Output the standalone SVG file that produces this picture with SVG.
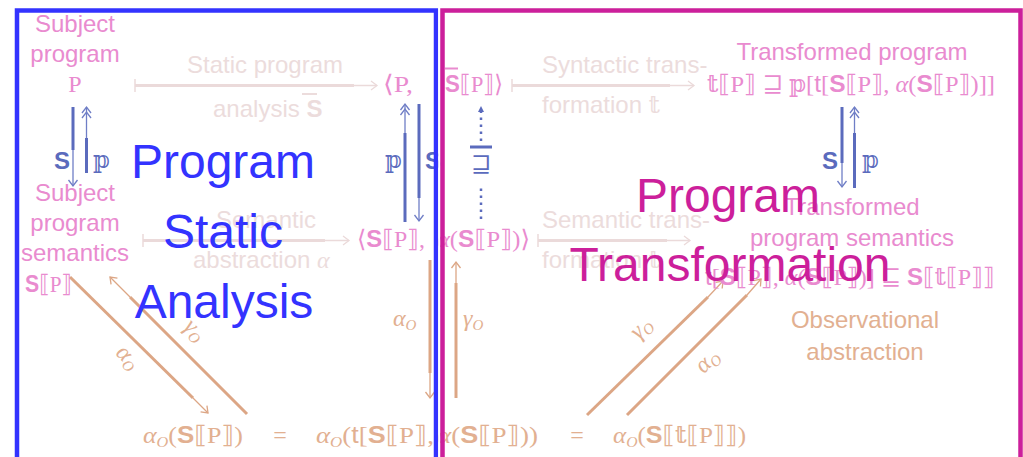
<svg xmlns="http://www.w3.org/2000/svg" width="1023" height="457" viewBox="0 0 1023 457">
<defs>
<style>
.pk{fill:#e98bcf;font-family:'Liberation Sans',Arial,sans-serif;font-size:24px}
.pm{fill:#e98bcf;font-family:'Liberation Serif','DejaVu Serif','DejaVu Sans',serif;font-size:24px}
.fa{fill:#ecdcdc;font-family:'Liberation Sans',Arial,sans-serif;font-size:24px}
.fm{fill:#ecdcdc;font-family:'Liberation Serif','DejaVu Serif','DejaVu Sans',serif;font-size:24px}
.tn{fill:#e2b091;font-family:'Liberation Sans',Arial,sans-serif;font-size:24px}
.tm{fill:#e2b091;font-family:'Liberation Serif','DejaVu Serif','DejaVu Sans',serif;font-size:24px}
.bm{fill:#5b6bbd;font-family:'Liberation Serif','DejaVu Serif','DejaVu Sans',serif;font-size:24px}
.bs{fill:#5b6bbd;font-family:'Liberation Sans',Arial,sans-serif;font-size:24px;font-weight:bold}
.sb{font-family:'Liberation Sans',Arial,sans-serif;font-weight:bold}
.sf{font-family:'Liberation Sans',Arial,sans-serif}
.it{font-style:italic}
.big1{fill:#3333ff;font-family:'Liberation Sans',Arial,sans-serif;font-size:48px;text-anchor:middle}
.big2{fill:#cc1f9b;font-family:'Liberation Sans',Arial,sans-serif;font-size:48px;text-anchor:middle}
.fth{stroke:#ebdada;stroke-width:3;fill:none}
.ftn{stroke:#ebdada;stroke-width:1.5;fill:none}
.bth{stroke:#5b6bbd;stroke-width:3;fill:none}
.btn{stroke:#6f7ec6;stroke-width:1.3;fill:none}
.tth{stroke:#dca685;stroke-width:3;fill:none}
.ttn{stroke:#dca685;stroke-width:1.3;fill:none}
</style>
<marker id="mf" markerUnits="userSpaceOnUse" markerWidth="12" markerHeight="12" refX="0" refY="0" orient="auto" overflow="visible"><path d="M-6,-4.5 L0,0 L-6,4.5" fill="none" stroke="#ebdada" stroke-width="1.3"/></marker>
<marker id="mb" markerUnits="userSpaceOnUse" markerWidth="12" markerHeight="12" refX="0" refY="0" orient="auto" overflow="visible"><path d="M-6,-4.5 L0,0 L-6,4.5" fill="none" stroke="#6f7ec6" stroke-width="1.3"/></marker>
<marker id="mbb" markerUnits="userSpaceOnUse" markerWidth="12" markerHeight="12" refX="0" refY="0" orient="auto" overflow="visible"><path d="M-6,-4.5 L0,0 L-6,4.5 M-11,-4.5 L-5,0 L-11,4.5" fill="none" stroke="#6f7ec6" stroke-width="1.3"/></marker>
<marker id="mbf" markerUnits="userSpaceOnUse" markerWidth="12" markerHeight="12" refX="0" refY="0" orient="auto" overflow="visible"><path d="M-6,-3 L0,0 L-6,3 z" fill="#5b6bbd"/></marker>
<marker id="mt" markerUnits="userSpaceOnUse" markerWidth="12" markerHeight="12" refX="0" refY="0" orient="auto" overflow="visible"><path d="M-6,-4.5 L0,0 L-6,4.5" fill="none" stroke="#dca685" stroke-width="1.3"/></marker>
</defs>
<rect width="1023" height="457" fill="#ffffff"/>

<g id="connectors">
  <!-- faint horizontal arrows -->
  <g id="static-analysis-arrow">
    <line class="ftn" x1="135" y1="79" x2="135" y2="92"/>
    <line class="fth" x1="135" y1="85.5" x2="354" y2="85.5"/>
    <line class="ftn" x1="354" y1="85.5" x2="377" y2="85.5" marker-end="url(#mf)"/>
  </g>
  <g id="syntactic-arrow">
    <line class="ftn" x1="512" y1="79" x2="512" y2="92"/>
    <line class="fth" x1="512" y1="85.5" x2="670" y2="85.5"/>
    <line class="ftn" x1="670" y1="85.5" x2="694" y2="85.5" marker-end="url(#mf)"/>
  </g>
  <g id="semantic-abstraction-arrow">
    <line class="ftn" x1="143" y1="234" x2="143" y2="247"/>
    <line class="fth" x1="143" y1="240.5" x2="325" y2="240.5"/>
    <line class="ftn" x1="325" y1="240.5" x2="349" y2="240.5" marker-end="url(#mf)"/>
  </g>
  <g id="semantic-transformation-arrow">
    <line class="ftn" x1="538" y1="234" x2="538" y2="247"/>
    <line class="fth" x1="538" y1="240.5" x2="667" y2="240.5"/>
    <line class="ftn" x1="667" y1="240.5" x2="690" y2="240.5" marker-end="url(#mf)"/>
  </g>
  <!-- blue vertical arrows -->
  <line class="bth" x1="73" y1="107" x2="73" y2="150"/>
  <line class="btn" x1="73" y1="150" x2="73" y2="186" marker-end="url(#mb)"/>
  <line class="bth" x1="86.5" y1="173" x2="86.5" y2="138"/>
  <line class="btn" x1="86.5" y1="138" x2="86.5" y2="107" marker-end="url(#mbb)"/>
  <line class="bth" x1="405" y1="222" x2="405" y2="133"/>
  <line class="btn" x1="405" y1="133" x2="405" y2="104" marker-end="url(#mbb)"/>
  <line class="bth" x1="419" y1="104" x2="419" y2="198"/>
  <line class="btn" x1="419" y1="198" x2="419" y2="221" marker-end="url(#mb)"/>
  <line class="bth" x1="842" y1="107" x2="842" y2="163"/>
  <line class="btn" x1="842" y1="163" x2="842" y2="187" marker-end="url(#mb)"/>
  <line class="bth" x1="854.5" y1="188" x2="854.5" y2="133"/>
  <line class="btn" x1="854.5" y1="133" x2="854.5" y2="107" marker-end="url(#mbb)"/>
  <line x1="481" y1="219" x2="481" y2="186" stroke="#5b6bbd" stroke-width="2.5" stroke-dasharray="2.5 4.5"/>
  <line x1="481" y1="141" x2="481" y2="106" stroke="#5b6bbd" stroke-width="2.5" stroke-dasharray="2.5 4.5" marker-end="url(#mbf)"/>
  <line x1="470" y1="147" x2="492" y2="147" stroke="#5b6bbd" stroke-width="3"/>
  <!-- tan observational arrows -->
  <line class="tth" x1="70" y1="277" x2="193" y2="398"/>
  <line class="ttn" x1="193" y1="398" x2="208" y2="413" marker-end="url(#mt)"/>
  <line class="tth" x1="247" y1="414" x2="130" y2="297"/>
  <line class="ttn" x1="130" y1="297" x2="110" y2="277" marker-end="url(#mt)"/>
  <line class="tth" x1="430" y1="260" x2="430" y2="373"/>
  <line class="ttn" x1="430" y1="373" x2="430" y2="398" marker-end="url(#mt)"/>
  <line class="tth" x1="456" y1="398" x2="456" y2="283"/>
  <line class="ttn" x1="456" y1="283" x2="456" y2="262" marker-end="url(#mt)"/>
  <line class="tth" x1="587" y1="415" x2="708" y2="297"/>
  <line class="ttn" x1="708" y1="297" x2="723" y2="281" marker-end="url(#mt)"/>
  <line class="tth" x1="627" y1="415" x2="747" y2="295"/>
  <line class="ttn" x1="747" y1="295" x2="761" y2="279" marker-end="url(#mt)"/>
</g>

<g id="connector-labels">
  <text class="fa" x="265" y="73" text-anchor="middle">Static program</text>
  <text class="fa" x="213" y="117">analysis <tspan class="sb">S</tspan></text>
  <line x1="302" y1="94" x2="317" y2="94" stroke="#ecdcdc" stroke-width="2"/>
  <text class="fa" x="542" y="73">Syntactic trans-</text>
  <text class="fa" x="542" y="113">formation <tspan class="fm">𝕥</tspan></text>
  <text class="fa" x="266" y="228" text-anchor="middle">Semantic</text>
  <text class="fa" x="193" y="268">abstraction <tspan class="fm it">α</tspan></text>
  <text class="fa" x="542" y="228">Semantic trans-</text>
  <text class="fa" x="542" y="268">formation <tspan class="fm">𝕥</tspan></text>
  <text class="bs" x="54" y="169">S</text>
  <text class="bm" x="93" y="168">𝕡</text>
  <text class="bm" x="385" y="168">𝕡</text>
  <text class="bs" x="425" y="169">S</text>
  <text class="bs" x="822" y="169">S</text>
  <text class="bm" x="862" y="168">𝕡</text>
  <text class="bm" x="481" y="172" text-anchor="middle">⊒</text>
  <text class="tm" transform="translate(190,335) rotate(45)" text-anchor="middle"><tspan class="it">γ</tspan><tspan class="it" font-size="15" dy="4">O</tspan></text>
  <text class="tm" transform="translate(123,362) rotate(45)" text-anchor="middle"><tspan class="it">α</tspan><tspan class="it" font-size="15" dy="4">O</tspan></text>
  <text class="tm" x="393" y="326"><tspan class="it">α</tspan><tspan class="it" font-size="15" dy="4">O</tspan></text>
  <text class="tm" x="463" y="326"><tspan class="it">γ</tspan><tspan class="it" font-size="15" dy="4">O</tspan></text>
  <text class="tm" transform="translate(646,333) rotate(-45)" text-anchor="middle"><tspan class="it">γ</tspan><tspan class="it" font-size="15" dy="4">O</tspan></text>
  <text class="tm" transform="translate(712,366) rotate(-45)" text-anchor="middle"><tspan class="it">α</tspan><tspan class="it" font-size="15" dy="4">O</tspan></text>
</g>

<g id="subject-program">
  <text class="pk" text-anchor="middle"><tspan x="75" y="32">Subject</tspan><tspan x="75" y="62">program</tspan></text>
  <text class="pm" x="75" y="92" text-anchor="middle">P</text>
</g>
<g id="static-analysis-result">
  <text class="pm" x="383" y="92" textLength="30" lengthAdjust="spacingAndGlyphs">⟨P,</text>
  <text class="pm" x="445" y="92" textLength="58" lengthAdjust="spacingAndGlyphs"><tspan class="sb">S</tspan>⟦P⟧⟩</text>
  <line x1="445" y1="68.5" x2="458" y2="68.5" stroke="#e98bcf" stroke-width="2"/>
</g>
<g id="transformed-program">
  <text class="pk" x="852" y="60" text-anchor="middle">Transformed program</text>
  <text class="pm" x="707" y="92" textLength="288" lengthAdjust="spacingAndGlyphs">𝕥⟦P⟧ ⊒ 𝕡[<tspan class="sf">t</tspan>[<tspan class="sb">S</tspan>⟦P⟧, <tspan class="it">α</tspan>(<tspan class="sb">S</tspan>⟦P⟧)]]</text>
</g>
<g id="subject-semantics">
  <text class="pk" text-anchor="middle"><tspan x="75" y="201">Subject</tspan><tspan x="75" y="231">program</tspan><tspan x="75" y="261">semantics</tspan></text>
  <text class="pm" x="25" y="292" textLength="47" lengthAdjust="spacingAndGlyphs"><tspan class="sb">S</tspan>⟦P⟧</text>
</g>
<g id="semantic-abstraction-result">
  <text class="pm" x="357" y="247" textLength="68" lengthAdjust="spacingAndGlyphs">⟨<tspan class="sb">S</tspan>⟦P⟧,</text>
  <text class="pm" x="437" y="247" textLength="93" lengthAdjust="spacingAndGlyphs"><tspan class="it">α</tspan>(<tspan class="sb">S</tspan>⟦P⟧)⟩</text>
</g>
<g id="transformed-semantics">
  <text class="pk" text-anchor="middle"><tspan x="852" y="215">Transformed</tspan><tspan x="852" y="246">program semantics</tspan></text>
  <text class="pm" x="705" y="285" textLength="290" lengthAdjust="spacingAndGlyphs"><tspan class="sf">t</tspan>[<tspan class="sb">S</tspan>⟦P⟧, <tspan class="it">α</tspan>(<tspan class="sb">S</tspan>⟦P⟧)] ⊑ <tspan class="sb">S</tspan>⟦𝕥⟦P⟧⟧</text>
</g>
<g id="observational-abstraction">
  <text class="tn" text-anchor="middle"><tspan x="865" y="328">Observational</tspan><tspan x="865" y="360">abstraction</tspan></text>
</g>
<g id="observational-equation">
  <text class="tm" x="143" y="443" textLength="100" lengthAdjust="spacingAndGlyphs"><tspan class="it">α</tspan><tspan class="it" font-size="15" dy="4">O</tspan><tspan dy="-4">(</tspan><tspan class="sb">S</tspan>⟦P⟧)</text>
  <text class="tm" x="280" y="443" text-anchor="middle">=</text>
  <text class="tm" x="316" y="443" textLength="118" lengthAdjust="spacingAndGlyphs"><tspan class="it">α</tspan><tspan class="it" font-size="15" dy="4">O</tspan><tspan dy="-4">(</tspan><tspan class="sf">t</tspan>[<tspan class="sb">S</tspan>⟦P⟧,</text>
  <text class="tm" x="437" y="443" textLength="101" lengthAdjust="spacingAndGlyphs"><tspan class="it">α</tspan>(<tspan class="sb">S</tspan>⟦P⟧))</text>
  <text class="tm" x="577" y="443" text-anchor="middle">=</text>
  <text class="tm" x="613" y="443" textLength="133" lengthAdjust="spacingAndGlyphs"><tspan class="it">α</tspan><tspan class="it" font-size="15" dy="4">O</tspan><tspan dy="-4">(</tspan><tspan class="sb">S</tspan>⟦𝕥⟦P⟧⟧)</text>
</g>

<g id="title-static-analysis">
  <text class="big1"><tspan x="223" y="178">Program</tspan><tspan x="223" y="248">Static</tspan><tspan x="224" y="318">Analysis</tspan></text>
</g>
<g id="title-transformation">
  <text class="big2"><tspan x="728" y="212">Program</tspan><tspan x="730" y="281">Transformation</tspan></text>
</g>

<g id="frames">
  <rect x="17" y="10.5" width="419" height="460" fill="none" stroke="#3333ff" stroke-width="4.5"/>
  <line x1="439.2" y1="8" x2="439.2" y2="457" stroke="#ffffff" stroke-width="2"/>
  <rect x="442.5" y="10.5" width="578" height="460" fill="none" stroke="#cc1f9b" stroke-width="4.5"/>
</g>
</svg>
